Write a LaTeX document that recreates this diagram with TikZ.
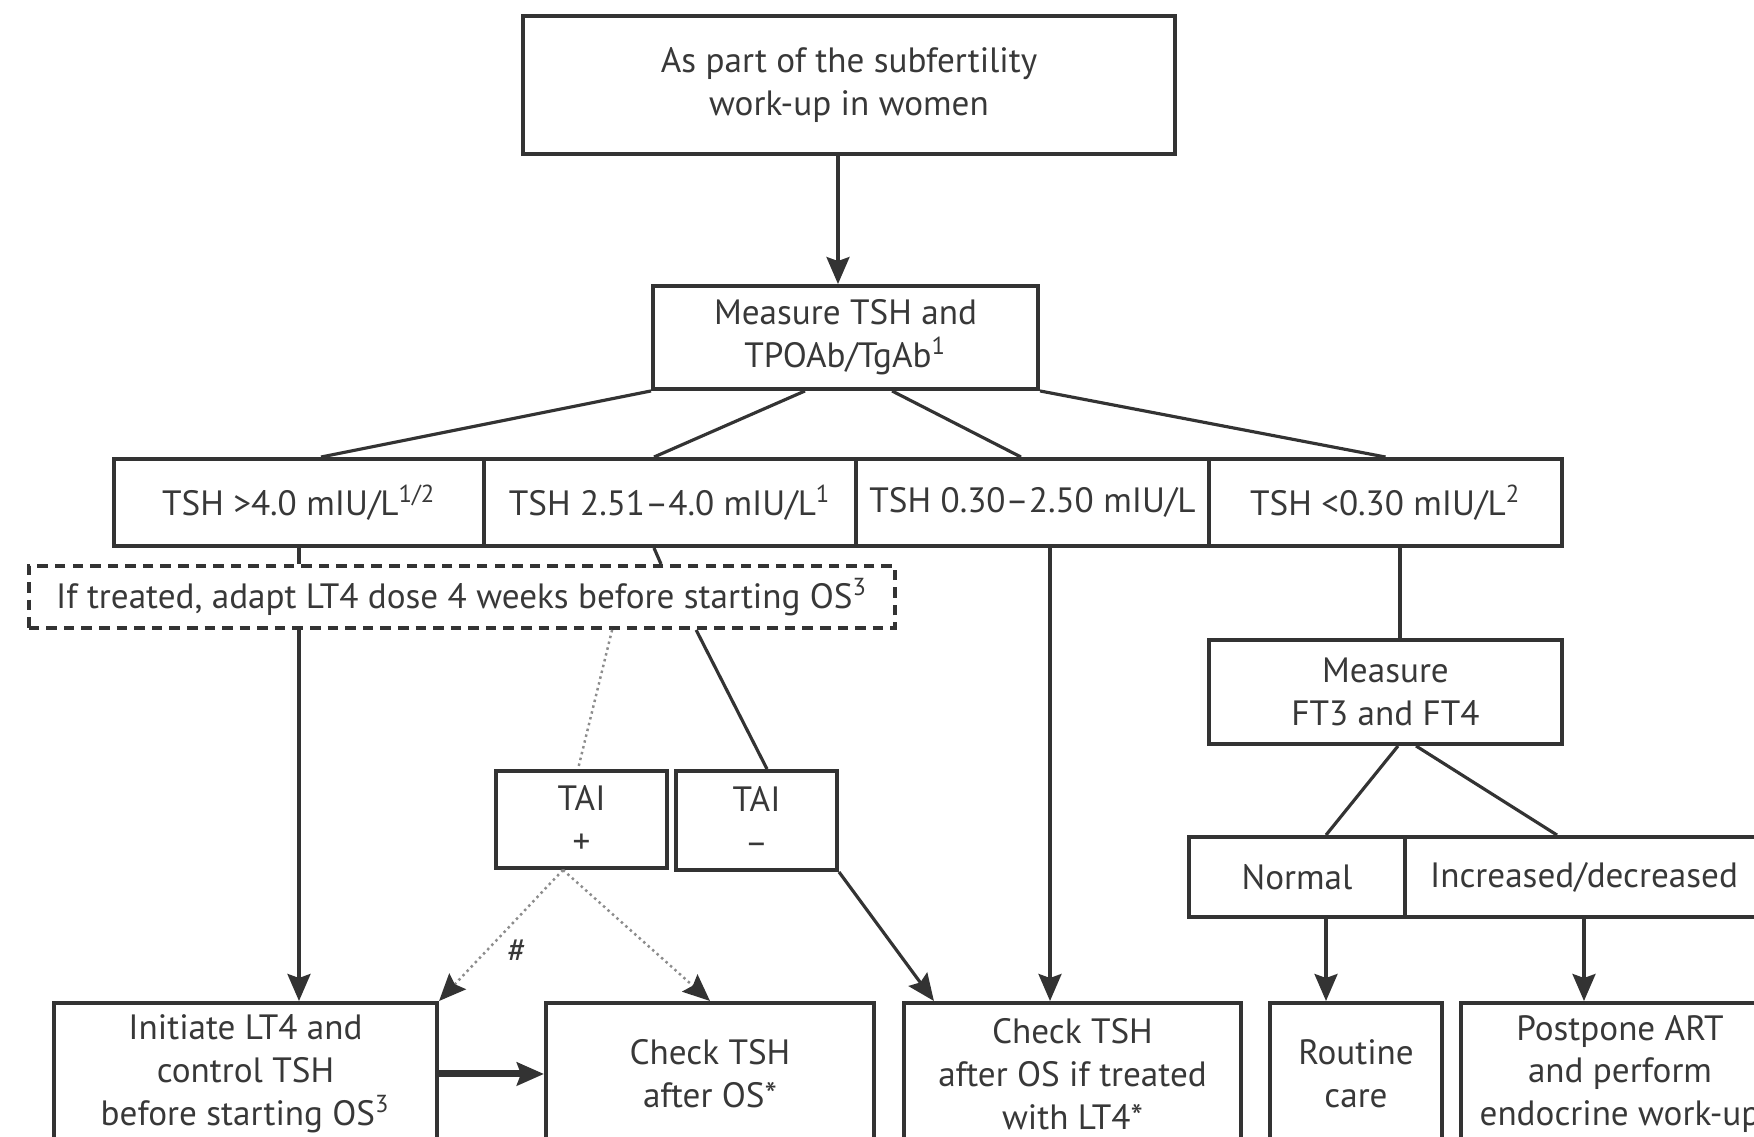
\documentclass[tikz,border=0pt]{standalone}
\usepackage{fontspec}
\setmainfont{PT Sans}
\usepackage{tikz}
\usetikzlibrary{calc,arrows.meta}

\definecolor{linec}{HTML}{333333}
\definecolor{textc}{HTML}{383838}
\definecolor{dotc}{HTML}{8C8C8C}

\begin{document}
\begin{tikzpicture}[x=0.01cm, y=-0.01cm,
  box/.style={draw=linec, line width=1.1pt, text=textc, align=center, inner sep=0pt,
    font=\fontsize{10}{12.2}\selectfont},
  dashbox/.style={box, dash pattern=on 3pt off 2pt},
  endbox/.style={box, anchor=north, minimum height=1.42cm},
  link/.style={draw=linec, line width=0.9pt},
  arr/.style={link, -{Stealth[length=2.7mm, width=2.3mm, inset=0.4mm]}},
  dotlink/.style={draw=dotc, line width=0.7pt, densely dotted},
  dotarr/.style={dotlink, -{Stealth[length=2.7mm, width=2.3mm, inset=0.4mm, color=linec]}},
]

% Canvas (the chart runs off the bottom and right edges)
\useasboundingbox (0,0) rectangle (1754,1137);
\clip (0,0) rectangle (1754,1137);

% Top of the chart
\node[box, minimum width=6.52cm, minimum height=1.38cm] (start) at (849,85)
  {As part of the subfertility\\work-up in women};
\node[box, minimum width=3.85cm, minimum height=1.03cm] (mtsh) at (845.5,337.5)
  {Measure TSH and\\TPOAb/TgAb\textsuperscript{1}};

% TSH ranges
\node[box, minimum width=3.70cm, minimum height=0.87cm] (tsha) at (299,502.5)
  {TSH >4.0 mIU/L\textsuperscript{1/2}};
\node[box, minimum width=3.72cm, minimum height=0.87cm] (tshb) at (670,502.5)
  {TSH 2.51–4.0 mIU/L\textsuperscript{1}};
\node[box, minimum width=3.53cm, minimum height=0.87cm] (tshc) at (1032.5,502.5)
  {TSH 0.30–2.50 mIU/L};
\node[box, minimum width=3.53cm, minimum height=0.87cm] (tshd) at (1385.5,502.5)
  {TSH <0.30 mIU/L\textsuperscript{2}};

% Dashed note
\node[dashbox, minimum width=8.66cm, minimum height=0.62cm] (adapt) at (462,597)
  {If treated, adapt LT4 dose 4 weeks before starting OS\textsuperscript{3}};

% Antibody status
\node[box, minimum width=1.71cm, minimum height=0.97cm] (taip) at (581.5,819.5) {TAI\\+};
\node[box, minimum width=1.61cm, minimum height=0.99cm] (taim) at (756.5,820.5) {TAI\\–};

% Free hormones
\node[box, minimum width=3.53cm, minimum height=1.04cm] (ft) at (1385.5,692)
  {Measure\\FT3 and FT4};
\node[box, minimum width=2.16cm, minimum height=0.80cm] (normal) at (1297,877) {Normal};
\node[box, minimum width=3.58cm, minimum height=0.80cm] (incr) at (1584,877) {Increased/decreased};

% Outcomes
\node[endbox, minimum width=3.83cm] (init) at (245.5,1001)
  {Initiate LT4 and\\control TSH\\before starting OS\textsuperscript{3}};
\node[endbox, minimum width=3.28cm] (chk) at (710,1001) {Check TSH\\after OS*};
\node[endbox, minimum width=3.37cm] (chktx) at (1072.5,1001)
  {Check TSH\\after OS if treated\\with LT4*};
\node[endbox, minimum width=1.72cm] (routine) at (1356,1001) {Routine\\care};
\node[endbox, minimum width=3.18cm] (post) at (1620,1001)
  {Postpone ART\\and perform\\endocrine work-up};

% Hash mark
\node[text=textc, font=\fontsize{10}{12}\selectfont] (hash) at (517,951) {\#};

% Connectors
\draw[arr] ([xshift=-1.1mm]start.south) -- ([xshift=-1.1mm]start.south |- mtsh.north);

\draw[link] (mtsh.south west) -- ([xshift=2.2mm]tsha.north);
\draw[link] ([xshift=-4.05mm]mtsh.south) -- ([xshift=-1.6mm]tshb.north);
\draw[link] ([xshift=4.65mm]mtsh.south) -- ([xshift=-1.15mm]tshc.north);
\draw[link] (mtsh.south east) -- (tshd.north);

\draw[link] (tsha.south) -- (tsha.south |- adapt.north);
\draw[link] ([xshift=-1.6mm]tshb.south) -- ([xshift=-0.9mm]tshb.south |- adapt.north);
\draw[arr] (tsha.south |- adapt.south) -- (tsha.south |- init.north);

\draw[dotlink] ([xshift=15mm]adapt.south) -- ([xshift=-0.35mm]taip.north);
\draw[link] ([xshift=23.4mm]adapt.south) -- ([xshift=1.05mm]taim.north);

\draw[dotarr] ([xshift=-1.85mm]taip.south) -- (init.north east);
\draw[dotarr] ([xshift=-1.85mm]taip.south) -- (chk.north);
\draw[arr] (taim.south east) -- ([xshift=-13.85mm]chktx.north);

\draw[arr] ([xshift=1.75mm]tshc.south) -- ([xshift=1.75mm]tshc.south |- chktx.north);

\draw[link] ([xshift=1.45mm]tshd.south) -- ([xshift=1.45mm]tshd.south |- ft.north);
\draw[link] ([xshift=1.25mm]ft.south) -- ([xshift=2.9mm]normal.north);
\draw[link] ([xshift=3.05mm]ft.south) -- ([xshift=-2.7mm]incr.north);

\draw[arr] ([xshift=2.9mm]normal.south) -- ([xshift=2.9mm]normal.south |- routine.north);
\draw[arr] (incr.south) -- (incr.south |- post.north);

\draw[arr, line width=2pt] (init.east) -- (chk.west);

\end{tikzpicture}
\end{document}
